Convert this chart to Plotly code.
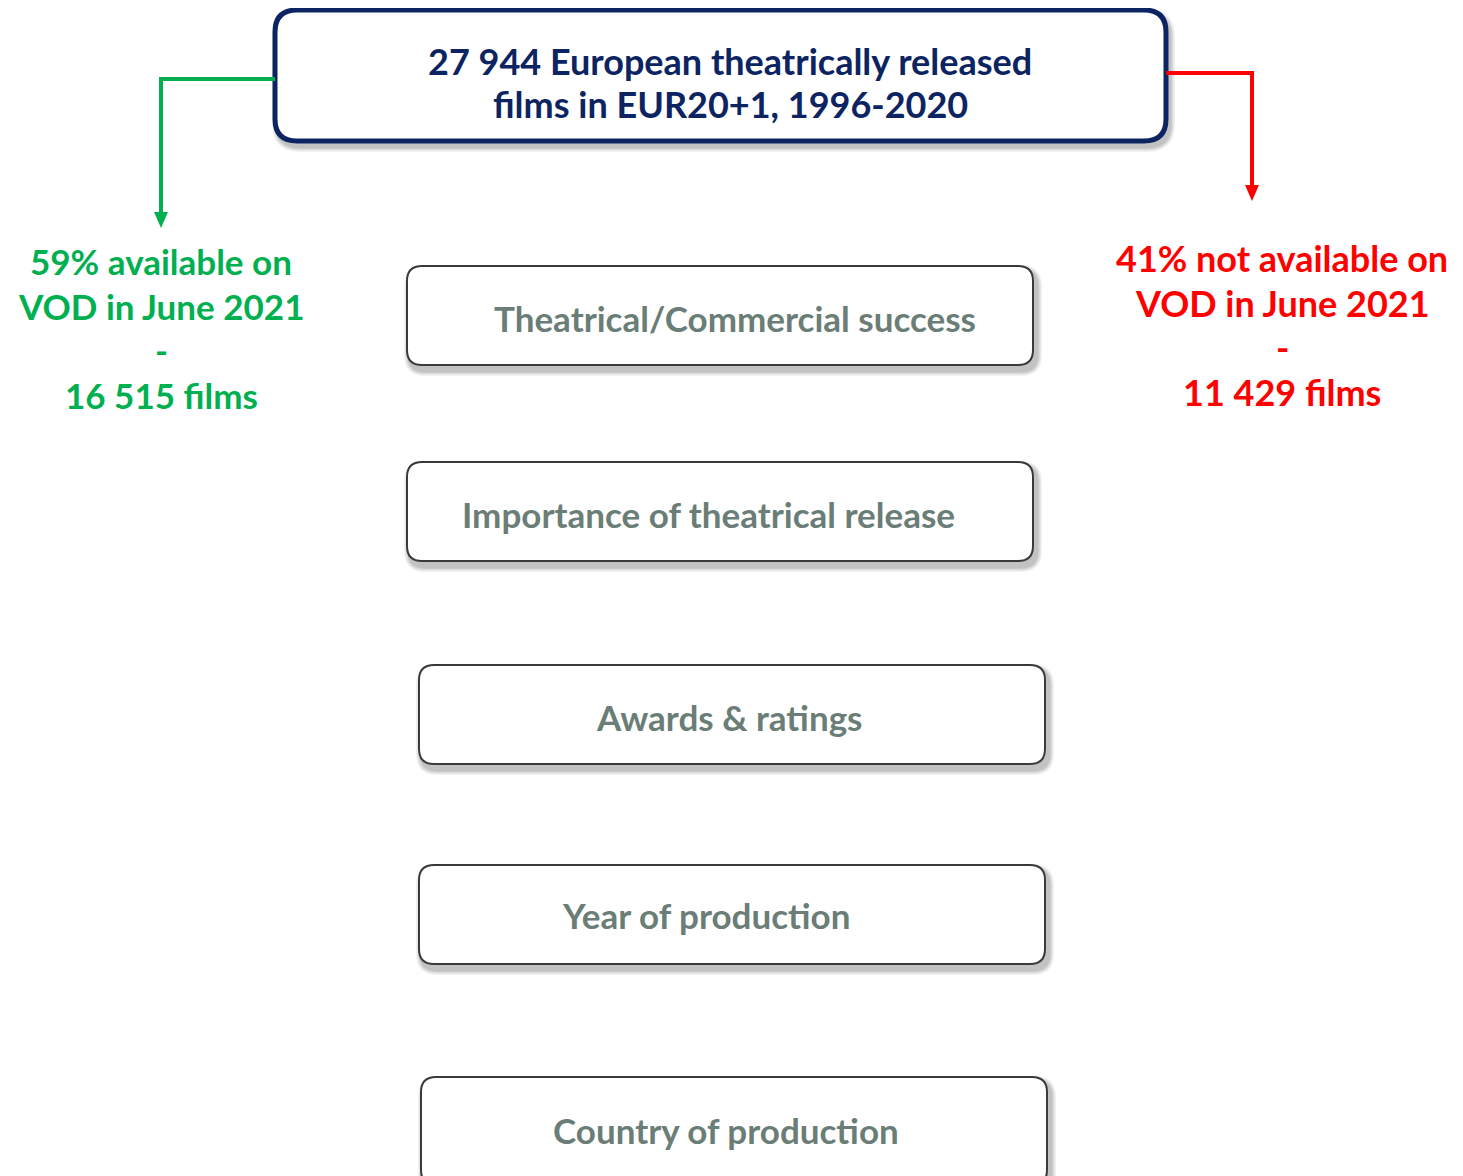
import plotly.graph_objects as go

W, H = 1463, 1176
OFF = 8  # page body margin compensation

title_lines = ["27 944 European theatrically released", "films in EUR20+1, 1996-2020"]
left_lines = ["59% available on", "VOD in June 2021", "-", "16 515 films"]
right_lines = ["41% not available on", "VOD in June 2021", "-", "11 429 films"]
factors = ["Theatrical/Commercial success", "Importance of theatrical release",
           "Awards & ratings", "Year of production", "Country of production"]

# layout geometry (pixels)
factor_boxes = [(407, 266, 1033, 365), (407, 462, 1033, 561), (419, 665, 1045, 764),
                (419, 865, 1045, 964), (421, 1077, 1047, 1185)]
factor_text = [(735, 318), (708, 514), (729, 717), (706, 915), (726, 1130)]

FONT = "Lato"
NAVY = "#0c2461"
GREEN = "#00b050"
RED = "#ff0000"
GRAYTXT = "#6a7d76"


def rr(x0, y0, x1, y1, r):
    return (f"M{x0+r},{y0} L{x1-r},{y0} Q{x1},{y0} {x1},{y0+r} L{x1},{y1-r} "
            f"Q{x1},{y1} {x1-r},{y1} L{x0+r},{y1} Q{x0},{y1} {x0},{y1-r} "
            f"L{x0},{y0+r} Q{x0},{y0} {x0+r},{y0} Z")


shapes = []
annotations = []


def shadow(x0, y0, x1, y1, r):
    for i, a in enumerate([0.05, 0.06, 0.07, 0.08]):
        d = 6 - i * 1.2
        shapes.append(dict(type="path", path=rr(x0 - d + 3, y0 - d + 5, x1 + d + 3, y1 + d + 5, r + d),
                           fillcolor=f"rgba(0,0,0,{a})", line=dict(width=0), layer="below"))


# top box
shadow(275, 10, 1166, 141, 22)
shapes.append(dict(type="path", path=rr(275, 10, 1166, 141, 22), fillcolor="white",
                   line=dict(color=NAVY, width=5)))
for i, t in enumerate(title_lines):
    annotations.append(dict(x=730, y=61 + i * 43, text=f"<b>{t}</b>", showarrow=False,
                            font=dict(family=FONT, size=36, color=NAVY), xanchor="center", yanchor="middle"))

# green connector
shapes.append(dict(type="path", path="M275,79 L161,79 L161,214", line=dict(color=GREEN, width=4)))
shapes.append(dict(type="path", path="M154,212 L168,212 L161,228 Z", fillcolor=GREEN, line=dict(width=0)))
# red connector
shapes.append(dict(type="path", path="M1166,73 L1252,73 L1252,186", line=dict(color=RED, width=4)))
shapes.append(dict(type="path", path="M1245,185 L1259,185 L1252,201 Z", fillcolor=RED, line=dict(width=0)))

for i, t in enumerate(left_lines):
    annotations.append(dict(x=161, y=261 + i * 44.7, text=f"<b>{t}</b>", showarrow=False,
                            font=dict(family=FONT, size=35, color=GREEN), xanchor="center", yanchor="middle"))
for i, t in enumerate(right_lines):
    annotations.append(dict(x=1282, y=258 + i * 44.7, text=f"<b>{t}</b>", showarrow=False,
                            font=dict(family=FONT, size=36, color=RED), xanchor="center", yanchor="middle"))

for (x0, y0, x1, y1), (tx, ty), lab in zip(factor_boxes, factor_text, factors):
    shadow(x0, y0, x1, y1, 15)
    shapes.append(dict(type="path", path=rr(x0, y0, x1, y1, 15), fillcolor="white",
                       line=dict(color="#3a3a3a", width=2)))
    annotations.append(dict(x=tx, y=ty, text=f"<b>{lab}</b>", showarrow=False,
                            font=dict(family=FONT, size=35, color=GRAYTXT), xanchor="center", yanchor="middle"))

fig = go.Figure()
fig.update_layout(
    width=W, height=H, margin=dict(l=0, r=0, t=0, b=0),
    paper_bgcolor="white", plot_bgcolor="white",
    xaxis=dict(range=[OFF, W + OFF], visible=False, fixedrange=True),
    yaxis=dict(range=[H + OFF, OFF], visible=False, fixedrange=True),
    shapes=shapes, annotations=annotations, showlegend=False,
)
fig.write_html("out.html", config={"displayModeBar": False})
